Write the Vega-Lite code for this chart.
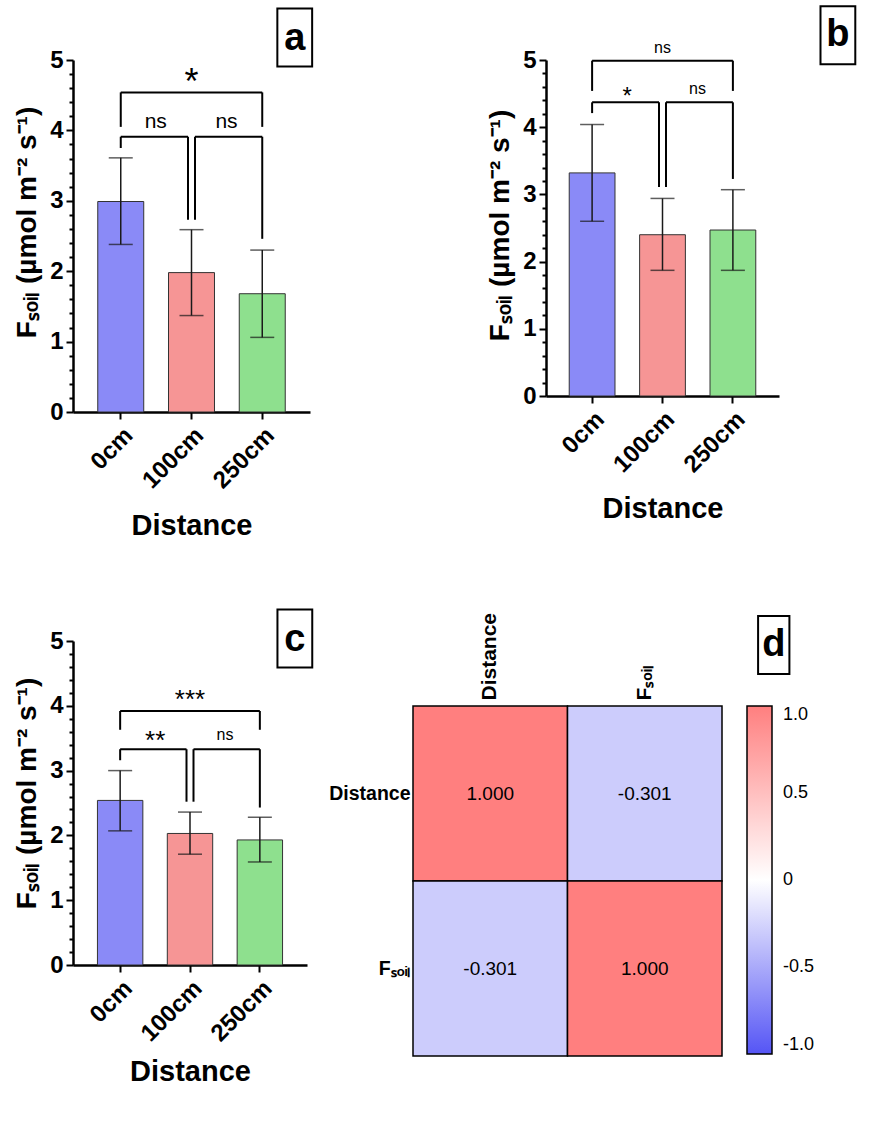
{
  "$schema": "https://vega.github.io/schema/vega-lite/v6.json",
  "background": "white",
  "padding": {"left": 13, "top": 2, "right": 5, "bottom": 5},
  "config": {
    "font": "Liberation Sans",
    "locale": {"number": {"decimal": ".", "thousands": ",", "grouping": [3], "currency": ["$", ""], "minus": "-"}},
    "view": {"stroke": null},
    "axis": {"grid": false, "labelColor": "black", "titleColor": "black", "domainColor": "black", "tickColor": "black", "labelFontWeight": "bold", "titleFontWeight": "bold", "labelFont": "Liberation Sans", "titleFont": "Liberation Sans"}
  },
  "datasets": {
    "bars": [
      {"panel": "a", "dist": "0cm", "mean": 2.99, "lo": 2.38, "hi": 3.61},
      {"panel": "a", "dist": "100cm", "mean": 1.98, "lo": 1.37, "hi": 2.59},
      {"panel": "a", "dist": "250cm", "mean": 1.68, "lo": 1.06, "hi": 2.3},
      {"panel": "b", "dist": "0cm", "mean": 3.32, "lo": 2.6, "hi": 4.04},
      {"panel": "b", "dist": "100cm", "mean": 2.4, "lo": 1.87, "hi": 2.94},
      {"panel": "b", "dist": "250cm", "mean": 2.47, "lo": 1.87, "hi": 3.07},
      {"panel": "c", "dist": "0cm", "mean": 2.54, "lo": 2.07, "hi": 3.0},
      {"panel": "c", "dist": "100cm", "mean": 2.03, "lo": 1.71, "hi": 2.36},
      {"panel": "c", "dist": "250cm", "mean": 1.93, "lo": 1.59, "hi": 2.28}
    ],
    "brackets": [
      {"panel": "a", "role": "plain", "x": "0cm", "x2": "0cm", "y": 4.05, "y2": 4.54},
      {"panel": "a", "role": "plain", "x": "0cm", "x2": "250cm", "y": 4.54, "y2": 4.54},
      {"panel": "a", "role": "plain", "x": "250cm", "x2": "250cm", "y": 4.05, "y2": 4.54},
      {"panel": "a", "role": "plain", "x": "0cm", "x2": "0cm", "y": 3.75, "y2": 3.91},
      {"panel": "a", "role": "hL", "x": "0cm", "x2": "100cm", "y": 3.91, "y2": 3.91},
      {"panel": "a", "role": "vL", "x": "100cm", "x2": "100cm", "y": 2.73, "y2": 3.91},
      {"panel": "a", "role": "hR", "x": "100cm", "x2": "250cm", "y": 3.91, "y2": 3.91},
      {"panel": "a", "role": "vR", "x": "100cm", "x2": "100cm", "y": 2.73, "y2": 3.91},
      {"panel": "a", "role": "plain", "x": "250cm", "x2": "250cm", "y": 2.46, "y2": 3.91},
      {"panel": "b", "role": "plain", "x": "0cm", "x2": "0cm", "y": 4.54, "y2": 4.99},
      {"panel": "b", "role": "plain", "x": "0cm", "x2": "250cm", "y": 4.99, "y2": 4.99},
      {"panel": "b", "role": "plain", "x": "250cm", "x2": "250cm", "y": 4.54, "y2": 4.99},
      {"panel": "b", "role": "plain", "x": "0cm", "x2": "0cm", "y": 4.21, "y2": 4.37},
      {"panel": "b", "role": "hL", "x": "0cm", "x2": "100cm", "y": 4.37, "y2": 4.37},
      {"panel": "b", "role": "vL", "x": "100cm", "x2": "100cm", "y": 3.11, "y2": 4.37},
      {"panel": "b", "role": "hR", "x": "100cm", "x2": "250cm", "y": 4.37, "y2": 4.37},
      {"panel": "b", "role": "vR", "x": "100cm", "x2": "100cm", "y": 3.11, "y2": 4.37},
      {"panel": "b", "role": "plain", "x": "250cm", "x2": "250cm", "y": 3.23, "y2": 4.37},
      {"panel": "c", "role": "plain", "x": "0cm", "x2": "0cm", "y": 3.63, "y2": 3.92},
      {"panel": "c", "role": "plain", "x": "0cm", "x2": "250cm", "y": 3.92, "y2": 3.92},
      {"panel": "c", "role": "plain", "x": "250cm", "x2": "250cm", "y": 3.63, "y2": 3.92},
      {"panel": "c", "role": "plain", "x": "0cm", "x2": "0cm", "y": 3.16, "y2": 3.33},
      {"panel": "c", "role": "hL", "x": "0cm", "x2": "100cm", "y": 3.33, "y2": 3.33},
      {"panel": "c", "role": "vL", "x": "100cm", "x2": "100cm", "y": 2.52, "y2": 3.33},
      {"panel": "c", "role": "hR", "x": "100cm", "x2": "250cm", "y": 3.33, "y2": 3.33},
      {"panel": "c", "role": "vR", "x": "100cm", "x2": "100cm", "y": 2.52, "y2": 3.33},
      {"panel": "c", "role": "plain", "x": "250cm", "x2": "250cm", "y": 2.43, "y2": 3.33}
    ],
    "sig": [
      {"panel": "a", "pos": "mid", "x": "100cm", "y": 4.51, "label": "*"},
      {"panel": "a", "pos": "L", "x": "0cm", "y": 4.03, "label": "ns"},
      {"panel": "a", "pos": "R", "x": "100cm", "y": 4.03, "label": "ns"},
      {"panel": "b", "pos": "mid", "x": "100cm", "y": 5.11, "label": "ns"},
      {"panel": "b", "pos": "L", "x": "0cm", "y": 4.35, "label": "*"},
      {"panel": "b", "pos": "R", "x": "100cm", "y": 4.5, "label": "ns"},
      {"panel": "c", "pos": "mid", "x": "100cm", "y": 3.97, "label": "***"},
      {"panel": "c", "pos": "L", "x": "0cm", "y": 3.33, "label": "**"},
      {"panel": "c", "pos": "R", "x": "100cm", "y": 3.47, "label": "ns"}
    ],
    "letters": [
      {"panel": "a", "x": "250cm", "y": 5.32, "label": "a"},
      {"panel": "b", "x": "250cm", "y": 5.37, "label": "b"},
      {"panel": "c", "x": "250cm", "y": 5.04, "label": "c"},
      {"panel": "d", "x": "Fₛₒᵢₗ", "y": "Distance", "label": "d"}
    ],
    "corr": [
      {"row": "Distance", "col": "Distance", "r": 1.0},
      {"row": "Distance", "col": "Fₛₒᵢₗ", "r": -0.301},
      {"row": "Fₛₒᵢₗ", "col": "Distance", "r": -0.301},
      {"row": "Fₛₒᵢₗ", "col": "Fₛₒᵢₗ", "r": 1.0}
    ]
  },
  "spacing": 64,
  "vconcat": [
    {
      "spacing": 169,
      "hconcat": [
        {
          "width": 237, "height": 352,
          "layer": [
            {"data": {"name": "bars"}, "transform": [{"filter": "datum.panel === 'a'"}],
             "mark": {"type": "bar", "stroke": "#333333", "strokeWidth": 1},
             "encoding": {
               "x": {"field": "dist", "type": "nominal", "title": "Distance",
                     "scale": {"domain": ["0cm", "100cm", "250cm"], "paddingInner": 0.35, "paddingOuter": 0.35},
                     "axis": {"labelAngle": -45, "labelFontSize": 24, "titleFontSize": 29, "tickSize": 7, "tickWidth": 2, "domainWidth": 2.5, "labelPadding": 4, "titlePadding": 19}},
               "y": {"field": "mean", "type": "quantitative", "title": "Fₛₒᵢₗ (µmol m⁻² s⁻¹)",
                     "scale": {"domain": [0, 5], "nice": false},
                     "axis": {"values": [0, 0.2, 0.4, 0.6, 0.8, 1, 1.2, 1.4, 1.6, 1.8, 2, 2.2, 2.4, 2.6, 2.8, 3, 3.2, 3.4, 3.6, 3.8, 4, 4.2, 4.4, 4.6, 4.8, 5], "tickCount": 40,
                              "labelExpr": "datum.value % 1 === 0 ? format(datum.value, 'd') : ''",
                              "tickSize": {"condition": {"test": "datum.value % 1 === 0", "value": 7}, "value": 4},
                              "tickWidth": 2, "domainWidth": 2.5, "labelFontSize": 24, "titleFontSize": 28, "titleY": 162, "labelPadding": 3, "titlePadding": 8, "labelOverlap": false, "labelFlush": false}},
               "fill": {"field": "dist", "type": "nominal", "scale": {"domain": ["0cm", "100cm", "250cm"], "range": ["#8A8AF7", "#F69595", "#8EE08E"]}, "legend": null}
             }},
            {"data": {"name": "bars"}, "transform": [{"filter": "datum.panel === 'a'"}],
             "mark": {"type": "rule", "color": "#1a1a1a", "strokeWidth": 1.5},
             "encoding": {"x": {"field": "dist", "type": "nominal"}, "y": {"field": "lo", "type": "quantitative"}, "y2": {"field": "hi"}}},
            {"data": {"name": "bars"}, "transform": [{"filter": "datum.panel === 'a'"}],
             "mark": {"type": "tick", "orient": "horizontal", "size": 24, "thickness": 1.5, "color": "#1a1a1a"},
             "encoding": {"x": {"field": "dist", "type": "nominal"}, "y": {"field": "lo", "type": "quantitative"}}},
            {"data": {"name": "bars"}, "transform": [{"filter": "datum.panel === 'a'"}],
             "mark": {"type": "tick", "orient": "horizontal", "size": 24, "thickness": 1.5, "color": "#1a1a1a"},
             "encoding": {"x": {"field": "dist", "type": "nominal"}, "y": {"field": "hi", "type": "quantitative"}}},
            {"data": {"name": "brackets"}, "transform": [{"filter": "datum.panel === 'a' && datum.role === 'plain'"}],
             "mark": {"type": "rule", "color": "black", "strokeWidth": 2},
             "encoding": {"x": {"field": "x", "type": "nominal"}, "x2": {"field": "x2"}, "y": {"field": "y", "type": "quantitative"}, "y2": {"field": "y2"}}},
            {"data": {"name": "brackets"}, "transform": [{"filter": "datum.panel === 'a' && datum.role === 'hL'"}],
             "mark": {"type": "rule", "color": "black", "strokeWidth": 2, "x2Offset": -3.5},
             "encoding": {"x": {"field": "x", "type": "nominal"}, "x2": {"field": "x2"}, "y": {"field": "y", "type": "quantitative"}, "y2": {"field": "y2"}}},
            {"data": {"name": "brackets"}, "transform": [{"filter": "datum.panel === 'a' && datum.role === 'vL'"}],
             "mark": {"type": "rule", "color": "black", "strokeWidth": 2, "xOffset": -3.5, "x2Offset": -3.5},
             "encoding": {"x": {"field": "x", "type": "nominal"}, "x2": {"field": "x2"}, "y": {"field": "y", "type": "quantitative"}, "y2": {"field": "y2"}}},
            {"data": {"name": "brackets"}, "transform": [{"filter": "datum.panel === 'a' && datum.role === 'hR'"}],
             "mark": {"type": "rule", "color": "black", "strokeWidth": 2, "xOffset": 3.5},
             "encoding": {"x": {"field": "x", "type": "nominal"}, "x2": {"field": "x2"}, "y": {"field": "y", "type": "quantitative"}, "y2": {"field": "y2"}}},
            {"data": {"name": "brackets"}, "transform": [{"filter": "datum.panel === 'a' && datum.role === 'vR'"}],
             "mark": {"type": "rule", "color": "black", "strokeWidth": 2, "xOffset": 3.5, "x2Offset": 3.5},
             "encoding": {"x": {"field": "x", "type": "nominal"}, "x2": {"field": "x2"}, "y": {"field": "y", "type": "quantitative"}, "y2": {"field": "y2"}}},
            {"data": {"name": "sig"}, "transform": [{"filter": "datum.panel === 'a' && datum.pos === 'mid'"}],
             "mark": {"type": "text", "fontSize": 36, "align": "center", "baseline": "alphabetic", "color": "black"},
             "encoding": {"x": {"field": "x", "type": "nominal"}, "y": {"field": "y", "type": "quantitative"}, "text": {"field": "label"}}},
            {"data": {"name": "sig"}, "transform": [{"filter": "datum.panel === 'a' && datum.pos !== 'mid'"}],
             "mark": {"type": "text", "fontSize": 21, "align": "center", "baseline": "alphabetic", "color": "black", "xOffset": 35},
             "encoding": {"x": {"field": "x", "type": "nominal"}, "y": {"field": "y", "type": "quantitative"}, "text": {"field": "label"}}},
            {"data": {"name": "letters"}, "transform": [{"filter": "datum.panel === 'a'"}],
             "mark": {"type": "point", "shape": "M-0.6,-1H0.6V1H-0.6Z", "size": 3364, "filled": false, "color": "black", "strokeWidth": 2, "opacity": 1, "xOffset": 32.5},
             "encoding": {"x": {"field": "x", "type": "nominal"}, "y": {"field": "y", "type": "quantitative"}}},
            {"data": {"name": "letters"}, "transform": [{"filter": "datum.panel === 'a'"}],
             "mark": {"type": "text", "fontSize": 38, "fontWeight": "bold", "align": "center", "baseline": "middle", "color": "black", "xOffset": 32.5, "yOffset": 2},
             "encoding": {"x": {"field": "x", "type": "nominal"}, "y": {"field": "y", "type": "quantitative"}, "text": {"field": "label"}}}
          ]
        },
        {
          "width": 233, "height": 336,
          "layer": [
            {"data": {"name": "bars"}, "transform": [{"filter": "datum.panel === 'b'"}],
             "mark": {"type": "bar", "stroke": "#333333", "strokeWidth": 1},
             "encoding": {
               "x": {"field": "dist", "type": "nominal", "title": "Distance",
                     "scale": {"domain": ["0cm", "100cm", "250cm"], "paddingInner": 0.35, "paddingOuter": 0.33},
                     "axis": {"labelAngle": -45, "labelFontSize": 24, "titleFontSize": 29, "tickSize": 7, "tickWidth": 2, "domainWidth": 2.5, "labelPadding": 4, "titlePadding": 18}},
               "y": {"field": "mean", "type": "quantitative", "title": "Fₛₒᵢₗ (µmol m⁻² s⁻¹)",
                     "scale": {"domain": [0, 5], "nice": false},
                     "axis": {"values": [0, 0.2, 0.4, 0.6, 0.8, 1, 1.2, 1.4, 1.6, 1.8, 2, 2.2, 2.4, 2.6, 2.8, 3, 3.2, 3.4, 3.6, 3.8, 4, 4.2, 4.4, 4.6, 4.8, 5], "tickCount": 40,
                              "labelExpr": "datum.value % 1 === 0 ? format(datum.value, 'd') : ''",
                              "tickSize": {"condition": {"test": "datum.value % 1 === 0", "value": 7}, "value": 4},
                              "tickWidth": 2, "domainWidth": 2.5, "labelFontSize": 24, "titleFontSize": 28, "titleY": 165, "labelPadding": 3, "titlePadding": 8, "labelOverlap": false, "labelFlush": false}},
               "fill": {"field": "dist", "type": "nominal", "scale": {"domain": ["0cm", "100cm", "250cm"], "range": ["#8A8AF7", "#F69595", "#8EE08E"]}, "legend": null}
             }},
            {"data": {"name": "bars"}, "transform": [{"filter": "datum.panel === 'b'"}],
             "mark": {"type": "rule", "color": "#1a1a1a", "strokeWidth": 1.5},
             "encoding": {"x": {"field": "dist", "type": "nominal"}, "y": {"field": "lo", "type": "quantitative"}, "y2": {"field": "hi"}}},
            {"data": {"name": "bars"}, "transform": [{"filter": "datum.panel === 'b'"}],
             "mark": {"type": "tick", "orient": "horizontal", "size": 24, "thickness": 1.5, "color": "#1a1a1a"},
             "encoding": {"x": {"field": "dist", "type": "nominal"}, "y": {"field": "lo", "type": "quantitative"}}},
            {"data": {"name": "bars"}, "transform": [{"filter": "datum.panel === 'b'"}],
             "mark": {"type": "tick", "orient": "horizontal", "size": 24, "thickness": 1.5, "color": "#1a1a1a"},
             "encoding": {"x": {"field": "dist", "type": "nominal"}, "y": {"field": "hi", "type": "quantitative"}}},
            {"data": {"name": "brackets"}, "transform": [{"filter": "datum.panel === 'b' && datum.role === 'plain'"}],
             "mark": {"type": "rule", "color": "black", "strokeWidth": 2},
             "encoding": {"x": {"field": "x", "type": "nominal"}, "x2": {"field": "x2"}, "y": {"field": "y", "type": "quantitative"}, "y2": {"field": "y2"}}},
            {"data": {"name": "brackets"}, "transform": [{"filter": "datum.panel === 'b' && datum.role === 'hL'"}],
             "mark": {"type": "rule", "color": "black", "strokeWidth": 2, "x2Offset": -3.5},
             "encoding": {"x": {"field": "x", "type": "nominal"}, "x2": {"field": "x2"}, "y": {"field": "y", "type": "quantitative"}, "y2": {"field": "y2"}}},
            {"data": {"name": "brackets"}, "transform": [{"filter": "datum.panel === 'b' && datum.role === 'vL'"}],
             "mark": {"type": "rule", "color": "black", "strokeWidth": 2, "xOffset": -3.5, "x2Offset": -3.5},
             "encoding": {"x": {"field": "x", "type": "nominal"}, "x2": {"field": "x2"}, "y": {"field": "y", "type": "quantitative"}, "y2": {"field": "y2"}}},
            {"data": {"name": "brackets"}, "transform": [{"filter": "datum.panel === 'b' && datum.role === 'hR'"}],
             "mark": {"type": "rule", "color": "black", "strokeWidth": 2, "xOffset": 3.5},
             "encoding": {"x": {"field": "x", "type": "nominal"}, "x2": {"field": "x2"}, "y": {"field": "y", "type": "quantitative"}, "y2": {"field": "y2"}}},
            {"data": {"name": "brackets"}, "transform": [{"filter": "datum.panel === 'b' && datum.role === 'vR'"}],
             "mark": {"type": "rule", "color": "black", "strokeWidth": 2, "xOffset": 3.5, "x2Offset": 3.5},
             "encoding": {"x": {"field": "x", "type": "nominal"}, "x2": {"field": "x2"}, "y": {"field": "y", "type": "quantitative"}, "y2": {"field": "y2"}}},
            {"data": {"name": "sig"}, "transform": [{"filter": "datum.panel === 'b' && datum.pos === 'mid'"}],
             "mark": {"type": "text", "fontSize": 16, "align": "center", "baseline": "alphabetic", "color": "black"},
             "encoding": {"x": {"field": "x", "type": "nominal"}, "y": {"field": "y", "type": "quantitative"}, "text": {"field": "label"}}},
            {"data": {"name": "sig"}, "transform": [{"filter": "datum.panel === 'b' && datum.pos === 'L'"}],
             "mark": {"type": "text", "fontSize": 24, "align": "center", "baseline": "alphabetic", "color": "black", "xOffset": 35},
             "encoding": {"x": {"field": "x", "type": "nominal"}, "y": {"field": "y", "type": "quantitative"}, "text": {"field": "label"}}},
            {"data": {"name": "sig"}, "transform": [{"filter": "datum.panel === 'b' && datum.pos === 'R'"}],
             "mark": {"type": "text", "fontSize": 16, "align": "center", "baseline": "alphabetic", "color": "black", "xOffset": 35},
             "encoding": {"x": {"field": "x", "type": "nominal"}, "y": {"field": "y", "type": "quantitative"}, "text": {"field": "label"}}},
            {"data": {"name": "letters"}, "transform": [{"filter": "datum.panel === 'b'"}],
             "mark": {"type": "point", "shape": "M-0.6,-1H0.6V1H-0.6Z", "size": 3364, "filled": false, "color": "black", "strokeWidth": 2, "opacity": 1, "xOffset": 105},
             "encoding": {"x": {"field": "x", "type": "nominal"}, "y": {"field": "y", "type": "quantitative"}}},
            {"data": {"name": "letters"}, "transform": [{"filter": "datum.panel === 'b'"}],
             "mark": {"type": "text", "fontSize": 38, "fontWeight": "bold", "align": "center", "baseline": "middle", "color": "black", "xOffset": 105},
             "encoding": {"x": {"field": "x", "type": "nominal"}, "y": {"field": "y", "type": "quantitative"}, "text": {"field": "label"}}}
          ]
        }
      ]
    },
    {
      "spacing": 11,
      "hconcat": [
        {
          "width": 234, "height": 324,
          "layer": [
            {"data": {"name": "bars"}, "transform": [{"filter": "datum.panel === 'c'"}],
             "mark": {"type": "bar", "stroke": "#333333", "strokeWidth": 1},
             "encoding": {
               "x": {"field": "dist", "type": "nominal", "title": "Distance",
                     "scale": {"domain": ["0cm", "100cm", "250cm"], "paddingInner": 0.35, "paddingOuter": 0.35},
                     "axis": {"labelAngle": -45, "labelFontSize": 24, "titleFontSize": 29, "tickSize": 7, "tickWidth": 2, "domainWidth": 2.5, "labelPadding": 4, "titlePadding": 12}},
               "y": {"field": "mean", "type": "quantitative", "title": "Fₛₒᵢₗ (µmol m⁻² s⁻¹)",
                     "scale": {"domain": [0, 5], "nice": false},
                     "axis": {"values": [0, 0.2, 0.4, 0.6, 0.8, 1, 1.2, 1.4, 1.6, 1.8, 2, 2.2, 2.4, 2.6, 2.8, 3, 3.2, 3.4, 3.6, 3.8, 4, 4.2, 4.4, 4.6, 4.8, 5], "tickCount": 40,
                              "labelExpr": "datum.value % 1 === 0 ? format(datum.value, 'd') : ''",
                              "tickSize": {"condition": {"test": "datum.value % 1 === 0", "value": 7}, "value": 4},
                              "tickWidth": 2, "domainWidth": 2.5, "labelFontSize": 24, "titleFontSize": 28, "titleY": 152, "labelPadding": 3, "titlePadding": 8, "labelOverlap": false, "labelFlush": false}},
               "fill": {"field": "dist", "type": "nominal", "scale": {"domain": ["0cm", "100cm", "250cm"], "range": ["#8A8AF7", "#F69595", "#8EE08E"]}, "legend": null}
             }},
            {"data": {"name": "bars"}, "transform": [{"filter": "datum.panel === 'c'"}],
             "mark": {"type": "rule", "color": "#1a1a1a", "strokeWidth": 1.5},
             "encoding": {"x": {"field": "dist", "type": "nominal"}, "y": {"field": "lo", "type": "quantitative"}, "y2": {"field": "hi"}}},
            {"data": {"name": "bars"}, "transform": [{"filter": "datum.panel === 'c'"}],
             "mark": {"type": "tick", "orient": "horizontal", "size": 24, "thickness": 1.5, "color": "#1a1a1a"},
             "encoding": {"x": {"field": "dist", "type": "nominal"}, "y": {"field": "lo", "type": "quantitative"}}},
            {"data": {"name": "bars"}, "transform": [{"filter": "datum.panel === 'c'"}],
             "mark": {"type": "tick", "orient": "horizontal", "size": 24, "thickness": 1.5, "color": "#1a1a1a"},
             "encoding": {"x": {"field": "dist", "type": "nominal"}, "y": {"field": "hi", "type": "quantitative"}}},
            {"data": {"name": "brackets"}, "transform": [{"filter": "datum.panel === 'c' && datum.role === 'plain'"}],
             "mark": {"type": "rule", "color": "black", "strokeWidth": 2},
             "encoding": {"x": {"field": "x", "type": "nominal"}, "x2": {"field": "x2"}, "y": {"field": "y", "type": "quantitative"}, "y2": {"field": "y2"}}},
            {"data": {"name": "brackets"}, "transform": [{"filter": "datum.panel === 'c' && datum.role === 'hL'"}],
             "mark": {"type": "rule", "color": "black", "strokeWidth": 2, "x2Offset": -3.5},
             "encoding": {"x": {"field": "x", "type": "nominal"}, "x2": {"field": "x2"}, "y": {"field": "y", "type": "quantitative"}, "y2": {"field": "y2"}}},
            {"data": {"name": "brackets"}, "transform": [{"filter": "datum.panel === 'c' && datum.role === 'vL'"}],
             "mark": {"type": "rule", "color": "black", "strokeWidth": 2, "xOffset": -3.5, "x2Offset": -3.5},
             "encoding": {"x": {"field": "x", "type": "nominal"}, "x2": {"field": "x2"}, "y": {"field": "y", "type": "quantitative"}, "y2": {"field": "y2"}}},
            {"data": {"name": "brackets"}, "transform": [{"filter": "datum.panel === 'c' && datum.role === 'hR'"}],
             "mark": {"type": "rule", "color": "black", "strokeWidth": 2, "xOffset": 3.5},
             "encoding": {"x": {"field": "x", "type": "nominal"}, "x2": {"field": "x2"}, "y": {"field": "y", "type": "quantitative"}, "y2": {"field": "y2"}}},
            {"data": {"name": "brackets"}, "transform": [{"filter": "datum.panel === 'c' && datum.role === 'vR'"}],
             "mark": {"type": "rule", "color": "black", "strokeWidth": 2, "xOffset": 3.5, "x2Offset": 3.5},
             "encoding": {"x": {"field": "x", "type": "nominal"}, "x2": {"field": "x2"}, "y": {"field": "y", "type": "quantitative"}, "y2": {"field": "y2"}}},
            {"data": {"name": "sig"}, "transform": [{"filter": "datum.panel === 'c' && datum.pos === 'mid'"}],
             "mark": {"type": "text", "fontSize": 26, "align": "center", "baseline": "alphabetic", "color": "black"},
             "encoding": {"x": {"field": "x", "type": "nominal"}, "y": {"field": "y", "type": "quantitative"}, "text": {"field": "label"}}},
            {"data": {"name": "sig"}, "transform": [{"filter": "datum.panel === 'c' && datum.pos === 'L'"}],
             "mark": {"type": "text", "fontSize": 26, "align": "center", "baseline": "alphabetic", "color": "black", "xOffset": 35},
             "encoding": {"x": {"field": "x", "type": "nominal"}, "y": {"field": "y", "type": "quantitative"}, "text": {"field": "label"}}},
            {"data": {"name": "sig"}, "transform": [{"filter": "datum.panel === 'c' && datum.pos === 'R'"}],
             "mark": {"type": "text", "fontSize": 16, "align": "center", "baseline": "alphabetic", "color": "black", "xOffset": 35},
             "encoding": {"x": {"field": "x", "type": "nominal"}, "y": {"field": "y", "type": "quantitative"}, "text": {"field": "label"}}},
            {"data": {"name": "letters"}, "transform": [{"filter": "datum.panel === 'c'"}],
             "mark": {"type": "point", "shape": "M-0.6,-1H0.6V1H-0.6Z", "size": 3364, "filled": false, "color": "black", "strokeWidth": 2, "opacity": 1, "xOffset": 35},
             "encoding": {"x": {"field": "x", "type": "nominal"}, "y": {"field": "y", "type": "quantitative"}}},
            {"data": {"name": "letters"}, "transform": [{"filter": "datum.panel === 'c'"}],
             "mark": {"type": "text", "fontSize": 38, "fontWeight": "bold", "align": "center", "baseline": "middle", "color": "black", "xOffset": 35, "yOffset": 2},
             "encoding": {"x": {"field": "x", "type": "nominal"}, "y": {"field": "y", "type": "quantitative"}, "text": {"field": "label"}}}
          ]
        },
        {
          "width": 309, "height": 415,
          "layer": [
            {"data": {"name": "corr"},
             "mark": {"type": "rect", "stroke": "black", "strokeWidth": 1.5},
             "encoding": {
               "x": {"field": "col", "type": "nominal", "title": null,
                     "scale": {"domain": ["Distance", "Fₛₒᵢₗ"], "paddingInner": 0, "paddingOuter": 0},
                     "axis": {"orient": "top", "offset": -65, "labelAngle": -90, "domain": false, "ticks": false, "labelFontSize": 21, "labelPadding": 6}},
               "y": {"field": "row", "type": "nominal", "title": null,
                     "scale": {"domain": ["Distance", "Fₛₒᵢₗ"], "paddingInner": 0, "paddingOuter": 0.186, "align": 1},
                     "axis": {"domain": false, "ticks": false, "labelFontSize": 19.5, "labelPadding": 3}},
               "fill": {"field": "r", "type": "quantitative",
                        "scale": {"domain": [-1, 0, 1], "range": ["#5555F5", "#ffffff", "#FF7F7F"], "interpolate": "rgb"},
                        "legend": {"orient": "none", "legendX": 334, "legendY": 65, "direction": "vertical", "gradientLength": 348, "gradientThickness": 25,
                                   "gradientStrokeColor": "black", "gradientStrokeWidth": 1.5, "values": [1, 0.5, 0, -0.5, -1],
                                   "labelExpr": "datum.value === 0 ? '0' : format(datum.value, '.1f')", "labelFontSize": 18, "labelFont": "Liberation Sans", "labelColor": "black", "labelOffset": 11, "labelBaseline": "middle", "title": null}}
             }},
            {"data": {"name": "corr"},
             "mark": {"type": "text", "fontSize": 19, "color": "black", "font": "Liberation Sans"},
             "encoding": {"x": {"field": "col", "type": "nominal"}, "y": {"field": "row", "type": "nominal"}, "text": {"field": "r", "type": "quantitative", "format": ".3f"}}},
            {"data": {"name": "letters"}, "transform": [{"filter": "datum.panel === 'd'"}],
             "mark": {"type": "point", "shape": "M-0.54,-1H0.54V1H-0.54Z", "size": 3364, "filled": false, "color": "black", "strokeWidth": 2, "opacity": 1, "xOffset": 129, "yOffset": -148.5},
             "encoding": {"x": {"field": "x", "type": "nominal"}, "y": {"field": "y", "type": "nominal"}}},
            {"data": {"name": "letters"}, "transform": [{"filter": "datum.panel === 'd'"}],
             "mark": {"type": "text", "fontSize": 38, "fontWeight": "bold", "align": "center", "baseline": "middle", "color": "black", "xOffset": 129, "yOffset": -148.5},
             "encoding": {"x": {"field": "x", "type": "nominal"}, "y": {"field": "y", "type": "nominal"}, "text": {"field": "label"}}}
          ]
        }
      ]
    }
  ]
}
